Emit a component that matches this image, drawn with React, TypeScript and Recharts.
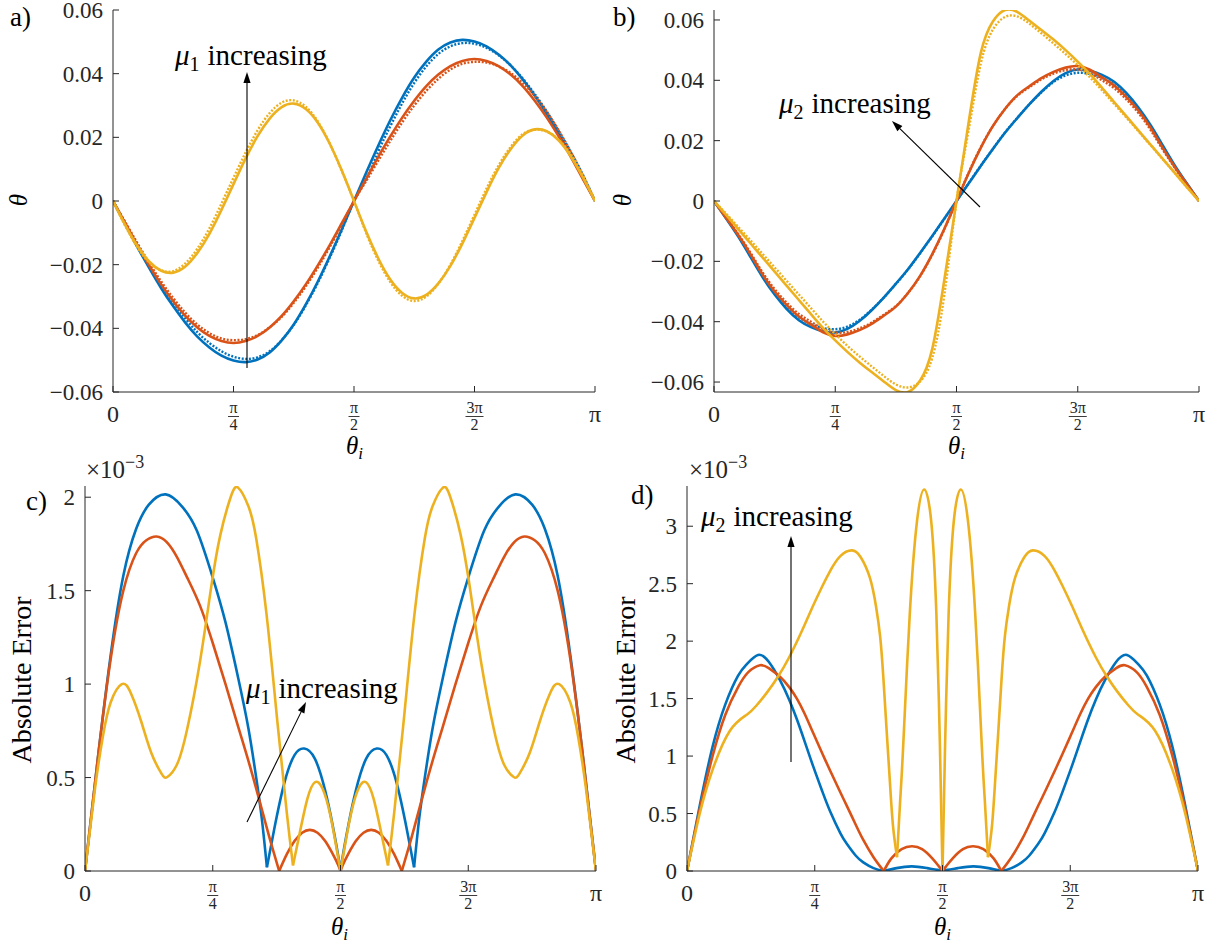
import React from 'react';
import { LineChart, Line, XAxis, YAxis } from 'recharts';

const FONT = "'Liberation Serif', 'DejaVu Serif', 'Noto Serif', 'Times New Roman', serif";
const INK = '#262626';
const BLUE = '#0072BD';
const RED = '#D95319';
const YELLOW = '#EDB120';

// theta_i is stored as a fraction of pi
const xTicks = [0, 0.25, 0.5, 0.75, 1];
const xTickLabels = ['0', 'π/4', 'π/2', '3π/2', 'π'];

const thetaTicks = [-0.06, -0.04, -0.02, 0, 0.02, 0.04, 0.06];
const thetaTickLabels = ['−0.06', '−0.04', '−0.02', '0', '0.02', '0.04', '0.06'];
const errTicksC = [0, 0.5, 1, 1.5, 2];
const errTickLabelsC = ['0', '0.5', '1', '1.5', '2'];
const errTicksD = [0, 0.5, 1, 1.5, 2, 2.5, 3];
const errTickLabelsD = ['0', '0.5', '1', '1.5', '2', '2.5', '3'];

// panels a) and b): common grid
const gridAB = [
  0, 0.025, 0.05, 0.075, 0.1, 0.125, 0.15, 0.175, 0.2, 0.225, 0.25, 0.275, 0.3, 0.325, 0.35, 0.375, 0.4, 0.425, 0.45, 0.475,
  0.5, 0.525, 0.55, 0.575, 0.6, 0.625, 0.65, 0.675, 0.7, 0.725, 0.75, 0.775, 0.8, 0.825, 0.85, 0.875, 0.9, 0.925, 0.95, 0.975, 1,
];

// a) mu1 varied: solid = exact, dotted = approximation
const aBlue = [
  0, -0.0072, -0.0143, -0.021, -0.0274, -0.0331, -0.0382, -0.0426, -0.046, -0.0486, -0.0501, -0.0506, -0.0498, -0.0476, -0.0438, -0.0388, -0.0325, -0.0253, -0.0173, -0.0088,
  0, 0.0088, 0.0173, 0.0253, 0.0325, 0.0388, 0.0438, 0.0476, 0.0498, 0.0506, 0.0501, 0.0486, 0.046, 0.0426, 0.0382, 0.0331, 0.0274, 0.021, 0.0143, 0.0072, 0,
];
const aRed = [
  0, -0.0069, -0.0138, -0.0202, -0.0262, -0.0315, -0.0361, -0.0397, -0.0424, -0.044, -0.0446, -0.044, -0.0424, -0.0397, -0.0361, -0.0315, -0.0262, -0.0202, -0.0138, -0.0069,
  0, 0.0069, 0.0138, 0.0202, 0.0262, 0.0315, 0.0361, 0.0397, 0.0424, 0.044, 0.0446, 0.044, 0.0424, 0.0397, 0.0361, 0.0315, 0.0262, 0.0202, 0.0138, 0.0069, 0,
];
const aYellow = [
  0, -0.0074, -0.014, -0.019, -0.0219, -0.0225, -0.0206, -0.0163, -0.0103, -0.0028, 0.0053, 0.0133, 0.0204, 0.0259, 0.0295, 0.0306, 0.0289, 0.0246, 0.0179, 0.0095,
  0, -0.0095, -0.0179, -0.0246, -0.0289, -0.0306, -0.0295, -0.0259, -0.0204, -0.0133, -0.0053, 0.0028, 0.0103, 0.0163, 0.0206, 0.0225, 0.0219, 0.019, 0.014, 0.0074, 0,
];
const aBlueDot = [
  0, -0.0068, -0.0136, -0.0201, -0.0263, -0.0319, -0.0369, -0.0412, -0.0446, -0.0472, -0.0489, -0.0496, -0.0491, -0.0472, -0.0437, -0.0389, -0.0328, -0.0257, -0.0177, -0.0091,
  0, 0.0068, 0.0154, 0.0234, 0.0307, 0.0371, 0.0423, 0.0462, 0.0486, 0.0496, 0.0494, 0.0481, 0.0458, 0.0426, 0.0385, 0.0336, 0.0281, 0.0219, 0.0153, 0.0082, 0,
];
const aRedDot = [
  0, -0.0065, -0.0131, -0.0194, -0.0253, -0.0305, -0.0351, -0.0388, -0.0415, -0.0432, -0.0437, -0.0434, -0.0421, -0.0397, -0.0364, -0.032, -0.0268, -0.0209, -0.0144, -0.0074,
  0, 0.0062, 0.0126, 0.0188, 0.0247, 0.03, 0.0346, 0.0384, 0.0413, 0.0431, 0.0437, 0.0435, 0.0423, 0.0402, 0.0371, 0.033, 0.028, 0.0221, 0.0154, 0.008, 0,
];
const aYellowDot = [
  0, -0.0077, -0.0144, -0.0193, -0.0218, -0.022, -0.0196, -0.015, -0.0086, -0.0008, 0.0073, 0.0152, 0.0222, 0.0276, 0.0309, 0.0316, 0.0296, 0.025, 0.018, 0.0093,
  0, -0.01, -0.0186, -0.0254, -0.0298, -0.0314, -0.03, -0.026, -0.02, -0.0125, -0.0043, 0.0039, 0.0112, 0.017, 0.021, 0.0224, 0.0218, 0.0192, 0.0146, 0.008, 0,
];

// b) mu2 varied
const bBlue = [
  0, -0.0058, -0.0118, -0.0185, -0.0252, -0.031, -0.0358, -0.0395, -0.0418, -0.0432, -0.0436, -0.0424, -0.0398, -0.0362, -0.032, -0.0274, -0.0226, -0.0172, -0.0116, -0.0058,
  0, 0.0058, 0.0116, 0.0172, 0.0226, 0.0274, 0.032, 0.0362, 0.0398, 0.0424, 0.0436, 0.0432, 0.0418, 0.0395, 0.0358, 0.031, 0.0252, 0.0185, 0.0118, 0.0058, 0,
];
const bRed = [
  0, -0.0056, -0.0113, -0.0176, -0.0243, -0.03, -0.0345, -0.0383, -0.041, -0.0435, -0.0447, -0.0442, -0.0428, -0.0407, -0.038, -0.035, -0.0305, -0.0248, -0.0176, -0.0092,
  0, 0.0092, 0.0176, 0.0248, 0.0305, 0.035, 0.038, 0.0407, 0.0428, 0.0442, 0.0447, 0.0435, 0.041, 0.0383, 0.0345, 0.03, 0.0243, 0.0176, 0.0113, 0.0056, 0,
];
const bYellow = [
  0, -0.0046, -0.0093, -0.014, -0.0187, -0.0234, -0.0281, -0.0328, -0.0375, -0.0421, -0.0462, -0.05, -0.0535, -0.0567, -0.0598, -0.0627, -0.0633, -0.0595, -0.049, -0.026,
  0, 0.026, 0.049, 0.0595, 0.0633, 0.0627, 0.0598, 0.0567, 0.0535, 0.05, 0.0462, 0.0421, 0.0375, 0.0328, 0.0281, 0.0234, 0.0187, 0.014, 0.0093, 0.0046, 0,
];
const bBlueDot = [
  0, -0.0056, -0.0114, -0.0179, -0.0245, -0.0302, -0.0349, -0.0385, -0.0408, -0.0421, -0.0425, -0.0416, -0.0394, -0.036, -0.032, -0.0275, -0.0227, -0.0173, -0.0117, -0.0059,
  0, 0.0059, 0.0117, 0.0173, 0.0227, 0.0275, 0.032, 0.036, 0.0394, 0.0416, 0.0425, 0.0421, 0.0408, 0.0385, 0.0349, 0.0302, 0.0245, 0.0179, 0.0114, 0.0056, 0,
];
const bRedDot = [
  0, -0.0054, -0.011, -0.0171, -0.0236, -0.0292, -0.0337, -0.0374, -0.04, -0.0424, -0.0436, -0.0434, -0.0422, -0.0403, -0.0377, -0.0348, -0.0305, -0.0249, -0.0178, -0.0094,
  0, 0.0094, 0.0178, 0.0249, 0.0305, 0.0348, 0.0377, 0.0403, 0.0422, 0.0434, 0.0436, 0.0424, 0.04, 0.0374, 0.0337, 0.0292, 0.0236, 0.0171, 0.011, 0.0054, 0,
];
const bYellowDot = [
  0, -0.0042, -0.0086, -0.013, -0.0175, -0.022, -0.0265, -0.031, -0.0355, -0.04, -0.0441, -0.048, -0.0515, -0.0548, -0.058, -0.0608, -0.0618, -0.0598, -0.052, -0.031,
  0, 0.0235, 0.0455, 0.0568, 0.061, 0.0612, 0.0588, 0.0556, 0.0522, 0.0487, 0.045, 0.041, 0.0367, 0.0322, 0.0277, 0.0231, 0.0185, 0.0139, 0.0093, 0.0046, 0,
];

// c) absolute error (x1e-3), mu1 varied
const cBlueX = [
  0, 0.025, 0.05, 0.075, 0.1, 0.125, 0.158, 0.19, 0.219, 0.25, 0.275, 0.3, 0.32, 0.335, 0.346, 0.356, 0.37, 0.39, 0.41, 0.429, 0.45, 0.47, 0.485, 0.495, 0.5,
  0.505, 0.515, 0.53, 0.55, 0.571, 0.59, 0.61, 0.63, 0.644, 0.654, 0.665, 0.68, 0.7, 0.725, 0.75, 0.781, 0.81, 0.842, 0.875, 0.9, 0.925, 0.95, 0.975, 1,
];
const cBlue = [
  0, 0.6, 1.15, 1.58, 1.83, 1.96, 2.015, 1.95, 1.82, 1.57, 1.33, 1.03, 0.76, 0.5, 0.28, 0.02, 0.22, 0.47, 0.62, 0.655, 0.6, 0.43, 0.24, 0.09, 0,
  0.09, 0.24, 0.43, 0.6, 0.655, 0.62, 0.47, 0.22, 0.02, 0.28, 0.5, 0.76, 1.03, 1.33, 1.57, 1.82, 1.95, 2.015, 1.96, 1.83, 1.58, 1.15, 0.6, 0,
];
const cBlueCusps = [0.356, 0.5, 0.644];
const cRedX = [
  0, 0.025, 0.05, 0.075, 0.1, 0.12, 0.14, 0.16, 0.18, 0.2, 0.225, 0.25, 0.275, 0.3, 0.325, 0.35, 0.365, 0.38, 0.395, 0.41, 0.425, 0.44, 0.455, 0.47, 0.485, 0.495, 0.5,
  0.505, 0.515, 0.53, 0.545, 0.56, 0.575, 0.59, 0.605, 0.62, 0.635, 0.65, 0.675, 0.7, 0.725, 0.75, 0.775, 0.8, 0.82, 0.84, 0.86, 0.88, 0.9, 0.925, 0.95, 0.975, 1,
];
const cRed = [
  0, 0.6, 1.13, 1.5, 1.7, 1.77, 1.79, 1.76, 1.68, 1.57, 1.42, 1.22, 1.0, 0.77, 0.54, 0.29, 0.14, 0, 0.09, 0.16, 0.205, 0.22, 0.205, 0.16, 0.09, 0.035, 0,
  0.035, 0.09, 0.16, 0.205, 0.22, 0.205, 0.16, 0.09, 0, 0.14, 0.29, 0.54, 0.77, 1.0, 1.22, 1.42, 1.57, 1.68, 1.76, 1.79, 1.77, 1.7, 1.5, 1.13, 0.6, 0,
];
const cRedCusps = [0.38, 0.5, 0.62];
const cYellowX = [
  0, 0.02, 0.035, 0.05, 0.072, 0.09, 0.11, 0.13, 0.15, 0.161, 0.18, 0.2, 0.225, 0.247, 0.265, 0.285, 0.3, 0.32, 0.335, 0.355, 0.375, 0.395, 0.407, 0.42, 0.435,
  0.45, 0.465, 0.48, 0.493, 0.5, 0.507, 0.52, 0.535, 0.55, 0.565, 0.58, 0.593, 0.605, 0.625, 0.645, 0.665, 0.68, 0.7, 0.715, 0.735, 0.753, 0.775, 0.8, 0.82,
  0.839, 0.85, 0.87, 0.89, 0.91, 0.928, 0.95, 0.965, 0.98, 1,
];
const cYellow = [
  0, 0.45, 0.72, 0.9, 1.0, 0.95, 0.8, 0.63, 0.52, 0.503, 0.57, 0.76, 1.12, 1.52, 1.8, 2.0, 2.05, 1.95, 1.78, 1.38, 0.84, 0.31, 0.03, 0.2, 0.385,
  0.475, 0.44, 0.3, 0.11, 0, 0.11, 0.3, 0.44, 0.475, 0.385, 0.2, 0.03, 0.31, 0.84, 1.38, 1.78, 1.95, 2.05, 2.0, 1.8, 1.52, 1.12, 0.76, 0.57,
  0.503, 0.52, 0.63, 0.8, 0.95, 1.0, 0.9, 0.72, 0.45, 0,
];
const cYellowCusps = [0.407, 0.5, 0.593];

// d) absolute error (x1e-3), mu2 varied
const dBlueX = [
  0, 0.025, 0.05, 0.075, 0.1, 0.117, 0.139, 0.16, 0.182, 0.2, 0.215, 0.23, 0.247, 0.265, 0.28, 0.3, 0.313, 0.33, 0.345, 0.365, 0.385, 0.41, 0.44, 0.47, 0.49,
  0.5, 0.51, 0.53, 0.56, 0.59, 0.615, 0.635, 0.655, 0.67, 0.687, 0.7, 0.72, 0.735, 0.753, 0.77, 0.785, 0.8, 0.818, 0.84, 0.861, 0.883, 0.9, 0.925, 0.95, 0.975, 1,
];
const dBlue = [
  0, 0.57, 1.08, 1.45, 1.7, 1.8, 1.88, 1.82, 1.66, 1.49, 1.32, 1.13, 0.91, 0.69, 0.52, 0.33, 0.235, 0.135, 0.075, 0.025, 0, 0.025, 0.04, 0.025, 0.01,
  0, 0.01, 0.025, 0.04, 0.025, 0, 0.025, 0.075, 0.135, 0.235, 0.33, 0.52, 0.69, 0.91, 1.13, 1.32, 1.49, 1.66, 1.82, 1.88, 1.8, 1.7, 1.45, 1.08, 0.57, 0,
];
const dBlueCusps = [0.385, 0.5, 0.615];
const dRedX = [
  0, 0.025, 0.05, 0.075, 0.1, 0.12, 0.143, 0.16, 0.182, 0.2, 0.215, 0.23, 0.247, 0.265, 0.28, 0.3, 0.313, 0.33, 0.345, 0.365, 0.385, 0.4, 0.42, 0.44, 0.46, 0.48, 0.493,
  0.5, 0.507, 0.52, 0.54, 0.56, 0.58, 0.6, 0.615, 0.635, 0.655, 0.67, 0.687, 0.7, 0.72, 0.735, 0.753, 0.77, 0.785, 0.8, 0.818, 0.84, 0.857, 0.88, 0.9, 0.925, 0.95, 0.975, 1,
];
const dRed = [
  0, 0.54, 1.0, 1.36, 1.6, 1.73, 1.79, 1.765, 1.69, 1.6, 1.5, 1.37, 1.2, 1.02, 0.875, 0.685, 0.565, 0.405, 0.27, 0.12, 0, 0.11, 0.19, 0.215, 0.19, 0.11, 0.04,
  0, 0.04, 0.11, 0.19, 0.215, 0.19, 0.11, 0, 0.12, 0.27, 0.405, 0.565, 0.685, 0.875, 1.02, 1.2, 1.37, 1.5, 1.6, 1.69, 1.765, 1.79, 1.73, 1.6, 1.36, 1.0, 0.54, 0,
];
const dRedCusps = [0.385, 0.5, 0.615];
const dYellowX = [
  0, 0.025, 0.05, 0.084, 0.117, 0.136, 0.156, 0.178, 0.2, 0.225, 0.247, 0.265, 0.28, 0.3, 0.323, 0.34, 0.358, 0.37, 0.378, 0.384, 0.391, 0.397, 0.403, 0.411,
  0.417, 0.423, 0.436, 0.45, 0.464, 0.478, 0.488, 0.495, 0.5, 0.505, 0.512, 0.522, 0.536, 0.55, 0.564, 0.577, 0.583, 0.589, 0.597, 0.603, 0.609, 0.616, 0.622,
  0.63, 0.642, 0.66, 0.677, 0.7, 0.72, 0.735, 0.753, 0.775, 0.8, 0.822, 0.844, 0.864, 0.883, 0.916, 0.95, 0.975, 1,
];
const dYellow = [
  0, 0.5, 0.88, 1.22, 1.36, 1.44, 1.55, 1.69, 1.86, 2.09, 2.31, 2.48, 2.61, 2.74, 2.79, 2.73, 2.55, 2.3, 2.04, 1.7, 1.2, 0.78, 0.4, 0.12,
  0.6, 1.08, 2.24, 3.04, 3.32, 3.04, 2.24, 1.08, 0, 1.08, 2.24, 3.04, 3.32, 3.04, 2.24, 1.08, 0.6, 0.12, 0.4, 0.78, 1.2, 1.7, 2.04,
  2.3, 2.55, 2.73, 2.79, 2.74, 2.61, 2.48, 2.31, 2.09, 1.86, 1.69, 1.55, 1.44, 1.36, 1.22, 0.88, 0.5, 0,
];
const dYellowCusps = [0.411, 0.5, 0.589];

type Pt = { t: number; v: number };

// split a curve at its cusps so each smooth arch is drawn on its own
function pieces(xs: number[], ys: number[], cusps: number[]): Pt[][] {
  const out: Pt[][] = [];
  let cur: Pt[] = [];
  xs.forEach((t, i) => {
    const p = { t, v: ys[i] };
    cur.push(p);
    if (cusps.includes(t)) {
      out.push(cur);
      cur = [p];
    }
  });
  out.push(cur);
  return out;
}

const tableA = gridAB.map((t, i) => ({
  t, blue: aBlue[i], red: aRed[i], yellow: aYellow[i], blueDot: aBlueDot[i], redDot: aRedDot[i], yellowDot: aYellowDot[i],
}));
const tableB = gridAB.map((t, i) => ({
  t, blue: bBlue[i], red: bRed[i], yellow: bYellow[i], blueDot: bBlueDot[i], redDot: bRedDot[i], yellowDot: bYellowDot[i],
}));

const serif = { fontFamily: FONT };

function Label(props: any) {
  const { children, ...rest } = props;
  return (
    <text {...rest} fill={INK} style={serif}>
      {children}
    </text>
  );
}

function XTick(props: any) {
  const { x, y, payload } = props;
  const lab = xTickLabels[xTicks.indexOf(payload.value)] ?? '';
  const parts = lab.split('/');
  const half = parts[0].length > 1 ? 9 : 5.5;
  return (
    <g>
      <line x1={x} y1={y} x2={x} y2={y - 6} stroke={INK} strokeWidth={1} />
      {parts.length === 1 ? (
        <Label x={x} y={y + 30} textAnchor="middle" fontSize={24}>{lab}</Label>
      ) : (
        <g>
          <Label x={x} y={y + 21} textAnchor="middle" fontSize={16}>{parts[0]}</Label>
          <line x1={x - half} y1={y + 24.5} x2={x + half} y2={y + 24.5} stroke={INK} strokeWidth={0.9} />
          <Label x={x} y={y + 38} textAnchor="middle" fontSize={16}>{parts[1]}</Label>
        </g>
      )}
    </g>
  );
}

function makeYTick(ticks: number[], labels: string[]) {
  return (props: any) => {
    const { x, y, payload } = props;
    const lab = labels[ticks.indexOf(payload.value)] ?? '';
    return (
      <g>
        <line x1={x} y1={y} x2={x + 6} y2={y} stroke={INK} strokeWidth={1} />
        <Label x={x - 10} y={y + 8} textAnchor="end" fontSize={23}>{lab}</Label>
      </g>
    );
  };
}

const solid = (color: string) => ({ stroke: color, strokeWidth: 2.6, dot: false, isAnimationActive: false, type: 'natural' as const });
const dotted = (color: string) => ({ ...solid(color), strokeWidth: 2.4, strokeDasharray: '2 1.6' });

function ThetaPanel(props: { data: any[]; domain: [number, number]; margin: any; left: number; top: number }) {
  const { data, domain, margin, left, top } = props;
  return (
    <div style={{ position: 'absolute', left, top }}>
      <LineChart width={612} height={470} data={data} margin={margin}>
        <XAxis dataKey="t" type="number" domain={[0, 1]} ticks={xTicks} allowDataOverflow
          stroke={INK} tickLine={false} tickSize={0} tickMargin={0} tick={(p: any) => <XTick {...p} />} />
        <YAxis type="number" domain={domain} ticks={thetaTicks} allowDataOverflow width={60}
          stroke={INK} tickLine={false} tickSize={0} tickMargin={0} tick={makeYTick(thetaTicks, thetaTickLabels)} />
        <Line dataKey="blue" {...solid(BLUE)} />
        <Line dataKey="blueDot" {...dotted(BLUE)} />
        <Line dataKey="red" {...solid(RED)} />
        <Line dataKey="redDot" {...dotted(RED)} />
        <Line dataKey="yellow" {...solid(YELLOW)} />
        <Line dataKey="yellowDot" {...dotted(YELLOW)} />
      </LineChart>
    </div>
  );
}

function ErrorPanel(props: {
  series: { parts: Pt[][]; color: string }[];
  domain: [number, number]; ticks: number[]; labels: string[]; margin: any; left: number; top: number;
}) {
  const { series, domain, ticks, labels, margin, left, top } = props;
  return (
    <div style={{ position: 'absolute', left, top }}>
      <LineChart width={612} height={475} margin={margin}>
        <XAxis dataKey="t" type="number" domain={[0, 1]} ticks={xTicks} allowDataOverflow
          stroke={INK} tickLine={false} tickSize={0} tickMargin={0} tick={(p: any) => <XTick {...p} />} />
        <YAxis type="number" domain={domain} ticks={ticks} allowDataOverflow width={60}
          stroke={INK} tickLine={false} tickSize={0} tickMargin={0} tick={makeYTick(ticks, labels)} />
        {series.flatMap((s, i) =>
          s.parts.map((seg, j) => <Line key={`${i}-${j}`} data={seg} dataKey="v" {...solid(s.color)} />),
        )}
      </LineChart>
    </div>
  );
}

function Arrow(props: { x1: number; y1: number; x2: number; y2: number }) {
  const { x1, y1, x2, y2 } = props;
  const a = Math.atan2(y2 - y1, x2 - x1);
  const len = 11, w = 3.6;
  const bx = x2 - len * Math.cos(a), by = y2 - len * Math.sin(a);
  const px = -Math.sin(a) * w, py = Math.cos(a) * w;
  return (
    <g>
      <line x1={x1} y1={y1} x2={bx} y2={by} stroke="#000" strokeWidth={1.1} />
      <polygon points={`${x2},${y2} ${bx + px},${by + py} ${bx - px},${by - py}`} fill="#000" />
    </g>
  );
}

function Mu(props: { x: number; y: number; sub: string }) {
  const { x, y, sub } = props;
  return (
    <text x={x} y={y} fontSize={29} fill="#000" style={serif}>
      <tspan fontStyle="italic">μ</tspan>
      <tspan fontSize={20} dy={6}>{sub}</tspan>
      <tspan dy={-6} dx={8}>increasing</tspan>
    </text>
  );
}

function ThetaI(props: { cx: number; y: number }) {
  return (
    <text x={props.cx - 9} y={props.y} fontSize={25} style={serif}>
      <tspan fontStyle="italic">θ</tspan>
      <tspan fontSize={17} fontStyle="italic" dy={5}>i</tspan>
    </text>
  );
}

export default function App() {
  return (
    <div style={{ position: 'absolute', left: 0, top: 0, width: 1224, height: 945, background: '#fff', fontFamily: FONT }}>
      <ThetaPanel data={tableA} domain={[-0.06, 0.06]} margin={{ top: 10, right: 17, bottom: 48, left: 53 }} left={0} top={0} />
      <ThetaPanel data={tableB} domain={[-0.0633, 0.0633]} margin={{ top: 10, right: 25, bottom: 48, left: 42 }} left={612} top={0} />
      <ErrorPanel
        series={[
          { parts: pieces(cBlueX, cBlue, cBlueCusps), color: BLUE },
          { parts: pieces(cRedX, cRed, cRedCusps), color: RED },
          { parts: pieces(cYellowX, cYellow, cYellowCusps), color: YELLOW },
        ]}
        domain={[0, 2.06]} ticks={errTicksC} labels={errTickLabelsC}
        margin={{ top: 16, right: 16, bottom: 44, left: 25 }} left={0} top={470}
      />
      <ErrorPanel
        series={[
          { parts: pieces(dBlueX, dBlue, dBlueCusps), color: BLUE },
          { parts: pieces(dRedX, dRed, dRedCusps), color: RED },
          { parts: pieces(dYellowX, dYellow, dYellowCusps), color: YELLOW },
        ]}
        domain={[0, 3.35]} ticks={errTicksD} labels={errTickLabelsD}
        margin={{ top: 16, right: 26, bottom: 44, left: 15 }} left={612} top={470}
      />
      <svg width={1224} height={945} style={{ position: 'absolute', left: 0, top: 0, pointerEvents: 'none' }}>
        <g fill="#000" style={serif}>
          <text x={10} y={26} fontSize={27} style={serif}>a)</text>
          <text x={613} y={26} fontSize={27} style={serif}>b)</text>
          <text x={26} y={510} fontSize={27} style={serif}>c)</text>
          <text x={631} y={504} fontSize={27} style={serif}>d)</text>

          <text x={0} y={0} fontSize={25} fontStyle="italic" textAnchor="middle" style={serif} transform="translate(27,200) rotate(-90)">θ</text>
          <text x={0} y={0} fontSize={25} fontStyle="italic" textAnchor="middle" style={serif} transform="translate(631,200) rotate(-90)">θ</text>
          <text x={0} y={0} fontSize={28} textAnchor="middle" style={serif} transform="translate(31,680) rotate(-90)">Absolute Error</text>
          <text x={0} y={0} fontSize={28} textAnchor="middle" style={serif} transform="translate(635,680) rotate(-90)">Absolute Error</text>

          <ThetaI cx={355} y={454} />
          <ThetaI cx={957} y={454} />
          <ThetaI cx={340} y={935} />
          <ThetaI cx={943} y={935} />
          {[86, 689].map((x0) => (
            <text key={x0} x={x0} y={478} fontSize={25} fill={INK} style={serif}>
              ×10<tspan fontSize={18} dy={-10}>−3</tspan>
            </text>
          ))}

          <Mu x={175} y={65} sub="1" />
          <Arrow x1={247} y1={368} x2={247} y2={72} />
          <Mu x={779} y={113} sub="2" />
          <Arrow x1={980} y1={207} x2={892} y2={121} />
          <Mu x={246} y={698} sub="1" />
          <Arrow x1={247} y1={822} x2={306} y2={702} />
          <Mu x={701} y={526} sub="2" />
          <Arrow x1={791} y1={762} x2={791} y2={536} />
        </g>
      </svg>
    </div>
  );
}
